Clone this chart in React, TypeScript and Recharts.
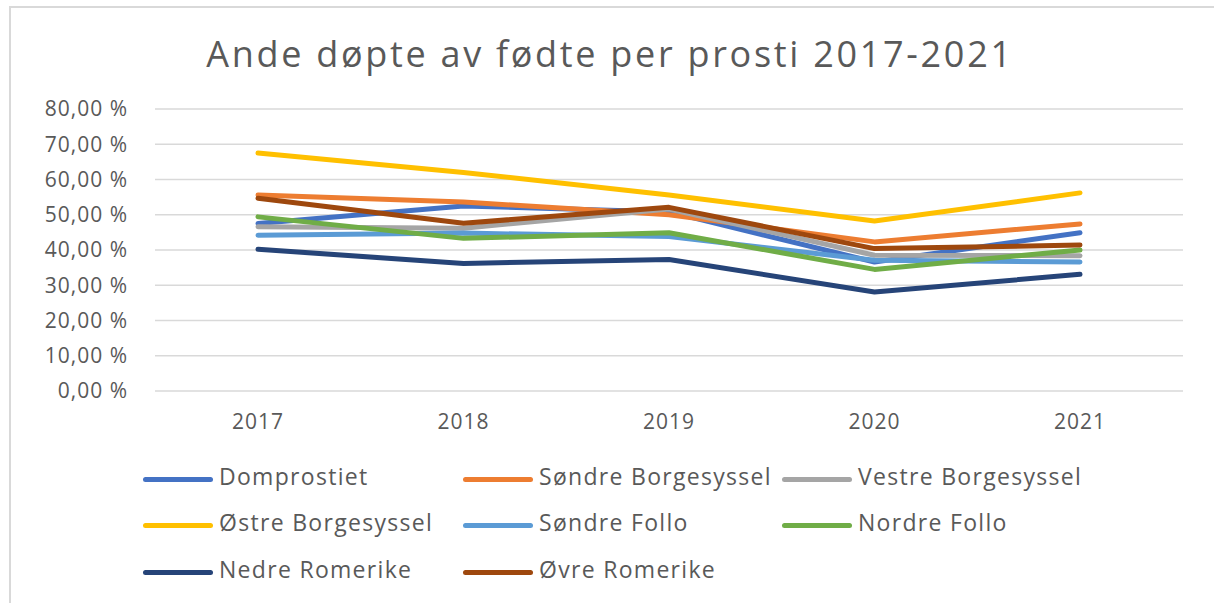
import React from 'react';
import { LineChart, Line, XAxis, YAxis, CartesianGrid } from 'recharts';

const years = ['2017', '2018', '2019', '2020', '2021'];

// andel døpte av fødte (%), lest av figuren
const domprostiet = [47.5, 52.5, 50.8, 36.6, 44.9];
const sondreBorgesyssel = [55.6, 53.6, 50.0, 42.3, 47.4];
const vestreBorgesyssel = [46.6, 46.2, 51.6, 38.5, 38.4];
const ostreBorgesyssel = [67.5, 62.0, 55.6, 48.2, 56.2];
const sondreFollo = [44.2, 44.8, 43.8, 37.1, 36.6];
const nordreFollo = [49.4, 43.3, 44.9, 34.5, 40.0];
const nedreRomerike = [40.2, 36.2, 37.3, 28.1, 33.1];
const ovreRomerike = [54.7, 47.6, 52.1, 40.4, 41.4];

const yTicks = [0, 10, 20, 30, 40, 50, 60, 70, 80];

const series = [
  { key: 'dom', name: 'Domprostiet', values: domprostiet, color: '#4472C4' },
  { key: 'sbo', name: 'Søndre Borgesyssel', values: sondreBorgesyssel, color: '#ED7D31' },
  { key: 'vbo', name: 'Vestre Borgesyssel', values: vestreBorgesyssel, color: '#A5A5A5' },
  { key: 'obo', name: 'Østre Borgesyssel', values: ostreBorgesyssel, color: '#FFC000' },
  { key: 'sfo', name: 'Søndre Follo', values: sondreFollo, color: '#5B9BD5' },
  { key: 'nfo', name: 'Nordre Follo', values: nordreFollo, color: '#70AD47' },
  { key: 'nro', name: 'Nedre Romerike', values: nedreRomerike, color: '#264478' },
  { key: 'oro', name: 'Øvre Romerike', values: ovreRomerike, color: '#9E480E' },
];

const data = years.map((year, i) => {
  const row: Record<string, any> = { year };
  series.forEach(s => {
    row[s.key] = s.values[i];
  });
  return row;
});

const FONT = '"Open Sans", sans-serif';
const TEXT = '#595959';

const fmtPct = (v: number) => `${v.toFixed(2).replace('.', ',')} %`;

// legend layout: 3 columns x 3 rows
const legendCols = [143, 463, 782];
const legendRows = [479, 525, 572];

export default function App() {
  return (
    <div style={{ position: 'absolute', left: 0, top: 0, width: 1214, height: 603, background: '#fff', fontFamily: FONT }}>
      {/* chart frame */}
      <div style={{ position: 'absolute', left: 9, top: 6, right: 0, bottom: 0, borderTop: '2px solid #d9d9d9', borderLeft: '2px solid #d9d9d9' }} />

      <div
        style={{
          position: 'absolute',
          left: 0,
          width: 1220,
          top: 67 - 38,
          textAlign: 'center',
          fontSize: 36,
          lineHeight: 'normal',
          letterSpacing: 2.7,
          color: TEXT,
          whiteSpace: 'nowrap',
        }}
      >
        Ande døpte av fødte per prosti 2017-2021
      </div>

      <div style={{ position: 'absolute', left: 0, top: 0 }}>
        <LineChart width={1214} height={603} data={data} margin={{ top: 109, right: 31, bottom: 182, left: 10 }}>
          <CartesianGrid vertical={false} stroke="#d9d9d9" strokeWidth={1.5} />
          <XAxis
            dataKey="year"
            height={30}
            padding={{ left: 103, right: 103 }}
            axisLine={false}
            tickLine={false}
            tickSize={0}
            tickMargin={23}
            tick={{ fill: TEXT, fontSize: 21, fontFamily: FONT, letterSpacing: 1 }}
          />
          <YAxis
            width={145}
            domain={[0, 80]}
            ticks={yTicks}
            axisLine={false}
            tickLine={false}
            tickSize={0}
            tickMargin={27}
            tickFormatter={fmtPct}
            tick={{ fill: TEXT, fontSize: 21, fontFamily: FONT, letterSpacing: 1 }}
          />
          {series.map(s => (
            <Line
              key={s.key}
              type="linear"
              dataKey={s.key}
              name={s.name}
              stroke={s.color}
              strokeWidth={5}
              strokeLinecap="round"
              strokeLinejoin="round"
              dot={false}
              activeDot={false}
              isAnimationActive={false}
            />
          ))}
        </LineChart>
      </div>

      {series.map((s, i) => {
        const x = legendCols[i % 3];
        const y = legendRows[Math.floor(i / 3)];
        return (
          <React.Fragment key={s.key}>
            <div style={{ position: 'absolute', left: x, top: y - 2.5, width: 70, height: 5, borderRadius: 3, background: s.color }} />
            <div
              style={{
                position: 'absolute',
                left: x + 76,
                top: y + 6 - 24.6,
                fontSize: 23,
                lineHeight: 'normal',
                letterSpacing: 1.3,
                color: TEXT,
                whiteSpace: 'nowrap',
              }}
            >
              {s.name}
            </div>
          </React.Fragment>
        );
      })}
    </div>
  );
}
